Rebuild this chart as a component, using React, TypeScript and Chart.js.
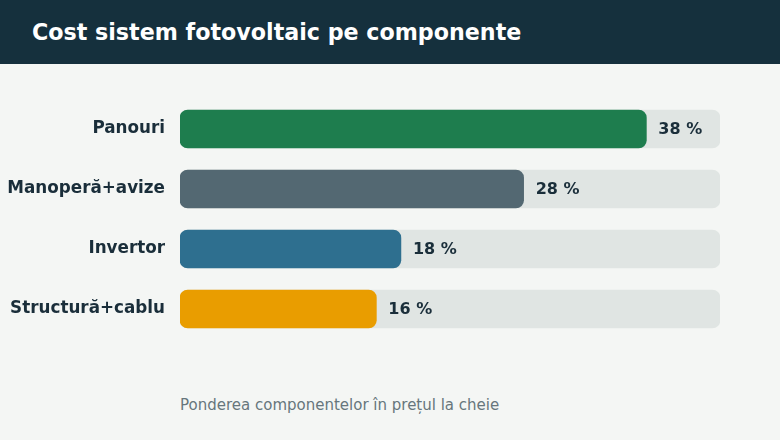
import React, { useEffect, useRef } from "react";
import { Chart, registerables } from "chart.js";

Chart.register(...registerables);

const categories = ["Panouri", "Manoperă+avize", "Invertor", "Structură+cablu"];
const values = [38, 28, 18, 16];
const trackMax = 44;
const trackValues = categories.map(() => trackMax);
const barColors = ["#1e7d4e", "#536872", "#2e6f8f", "#e99d00"];
const title = "Cost sistem fotovoltaic pe componente";
const footer = "Ponderea componentelor în prețul la cheie";

const FONT = "'DejaVu Sans', sans-serif";

const valueLabels = {
  id: "valueLabels",
  afterDatasetsDraw(chart: any) {
    const meta = chart.getDatasetMeta(1);
    const ctx = chart.ctx;
    ctx.save();
    ctx.font = `bold 16px ${FONT}`;
    ctx.fillStyle = "#1a2e3a";
    ctx.textAlign = "left";
    ctx.textBaseline = "middle";
    meta.data.forEach((bar: any, i: number) => {
      ctx.fillText(`${values[i]} %`, bar.x + 12, bar.y + 1);
    });
    ctx.restore();
  },
};

export default function App() {
  const ref = useRef<HTMLCanvasElement | null>(null);
  useEffect(() => {
    document.body.style.margin = "0";
    const chart = new Chart(ref.current!, {
      type: "bar",
      data: {
        labels: categories,
        datasets: [
          {
            data: trackValues,
            backgroundColor: "#e0e5e3",
            borderRadius: 8,
            borderSkipped: false,
            barThickness: 38,
            grouped: false,
            order: 2,
          },
          {
            data: values,
            backgroundColor: barColors,
            borderRadius: 8,
            borderSkipped: false,
            barThickness: 38,
            grouped: false,
            order: 1,
          },
        ],
      },
      options: {
        indexAxis: "y",
        animation: false,
        responsive: false,
        maintainAspectRatio: false,
        layout: { padding: { top: 35, bottom: 41, right: 60, left: 0 } },
        plugins: { legend: { display: false }, tooltip: { enabled: false } },
        scales: {
          x: { display: false, min: 0, max: trackMax },
          y: {
            grid: { display: false, drawTicks: false },
            border: { display: false },
            ticks: {
              padding: 15,
              color: "#1a2e3a",
              font: { family: FONT, size: 16.8, weight: "bold" },
            },
            afterFit(scale: any) {
              scale.width = 180;
            },
          },
        },
      },
      plugins: [valueLabels],
    });
    return () => chart.destroy();
  }, []);

  return (
    <div style={{ position: "relative", width: 780, height: 440, background: "#f4f6f4", overflow: "hidden", fontFamily: FONT }}>
      <div style={{ position: "absolute", left: 0, top: 0, width: 780, height: 64, background: "#15303d" }}>
        <div style={{ position: "absolute", left: 32, top: 0, height: 64, lineHeight: "64px", color: "#ffffff", fontWeight: "bold", fontSize: 22.2 }}>
          {title}
        </div>
      </div>
      <canvas ref={ref} width={780} height={316} style={{ position: "absolute", left: 0, top: 64, width: 780, height: 316 }} />
      <div style={{ position: "absolute", left: 180, top: 395, color: "#67767c", fontSize: 15, lineHeight: "20px" }}>
        {footer}
      </div>
    </div>
  );
}
